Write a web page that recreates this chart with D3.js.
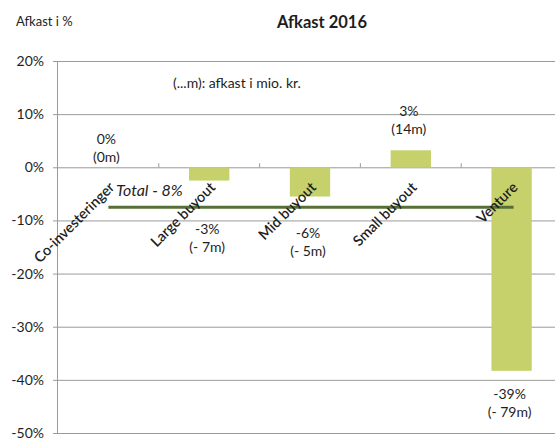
<!DOCTYPE html>
<html>
<head>
<meta charset="utf-8">
<script src="https://cdn.jsdelivr.net/npm/d3@7"></script>
<style>
  body { margin: 0; background: #fff; }
  text { font-family: Lato, "Open Sans", sans-serif; fill: #1e1e1e; }
</style>
</head>
<body>
<div id="chart"></div>
<script>
// chart data
const categories = ["Co-investeringer", "Large buyout", "Mid buyout", "Small buyout", "Venture"];
const values = [0, -2.5, -5.5, 3.2, -38.3];
const pctLabels = ["0%", "-3%", "-6%", "3%", "-39%"];
const mioLabels = ["(0m)", "(- 7m)", "(- 5m)", "(14m)", "(- 79m)"];
const totalValue = -7.5;
const totalLabel = "Total - 8%";
const yTicks = [20, 10, 0, -10, -20, -30, -40, -50];

const width = 555, height = 440;
const margin = {top: 61, right: -7, bottom: 7, left: 57};

const svg = d3.select("#chart").append("svg")
  .attr("width", width)
  .attr("height", height);

const x = d3.scaleBand()
  .domain(categories)
  .range([margin.left + 1, width - margin.right])
  .paddingInner(0.6)
  .paddingOuter(0.3);

const y = d3.scaleLinear()
  .domain([-50, 20])
  .range([height - margin.bottom, margin.top]);

// gridlines
svg.append("g")
  .selectAll("line")
  .data(yTicks)
  .join("line")
  .attr("x1", margin.left - 4)
  .attr("x2", width)
  .attr("y1", d => y(d) + 0.5)
  .attr("y2", d => y(d) + 0.5)
  .attr("stroke", "#9a9a9a")
  .attr("stroke-width", 1);

// y axis line
svg.append("line")
  .attr("x1", margin.left + 0.5).attr("x2", margin.left + 0.5)
  .attr("y1", y(20)).attr("y2", y(-50))
  .attr("stroke", "#9a9a9a");

// y tick labels
svg.append("g")
  .selectAll("text")
  .data(yTicks)
  .join("text")
  .attr("x", 44)
  .attr("y", d => y(d) + 5)
  .attr("text-anchor", "end")
  .attr("font-size", 14)
  .text(d => d + "%");

// category ticks on the zero line
const step = x.step();
const tickXs = categories.slice(1).map(c => x(c) + x.bandwidth() / 2 - step / 2);
svg.append("g")
  .selectAll("line")
  .data(tickXs)
  .join("line")
  .attr("x1", d => d).attr("x2", d => d)
  .attr("y1", y(0)).attr("y2", y(0) - 4)
  .attr("stroke", "#9a9a9a");

// bars
svg.append("g")
  .selectAll("rect")
  .data(values)
  .join("rect")
  .attr("x", (d, i) => x(categories[i]))
  .attr("width", x.bandwidth())
  .attr("y", d => y(Math.max(0, d)))
  .attr("height", d => Math.abs(y(d) - y(0)))
  .attr("fill", "#c6d16b");

// total line
const cx = c => x(c) + x.bandwidth() / 2;
svg.append("line")
  .attr("x1", cx(categories[0]))
  .attr("x2", cx(categories[categories.length - 1]) + 2)
  .attr("y1", y(totalValue))
  .attr("y2", y(totalValue))
  .attr("stroke", "#556f36")
  .attr("stroke-width", 3);

svg.append("text")
  .attr("x", 116)
  .attr("y", y(totalValue) - 11)
  .attr("font-size", 16)
  .attr("font-style", "italic")
  .text(totalLabel);

// category labels
svg.append("g")
  .selectAll("text")
  .data(categories)
  .join("text")
  .attr("transform", c => `translate(${cx(c) + 7},${y(0) + 21}) rotate(-45)`)
  .attr("text-anchor", "end")
  .attr("font-size", 14.5)
  .attr("font-weight", 600)
  .text(c => c);

// value labels: vertical offset of the first line from the bar end
const labelOffset = [-23, 53, 41, -34, 28];
const lbl = svg.append("g")
  .selectAll("g")
  .data(values)
  .join("g")
  .attr("transform", (d, i) => `translate(${cx(categories[i]) - 2},${y(d) + labelOffset[i]})`);
lbl.append("text")
  .attr("text-anchor", "middle")
  .attr("font-size", 14)
  .text((d, i) => pctLabels[i]);
lbl.append("text")
  .attr("text-anchor", "middle")
  .attr("y", 18)
  .attr("font-size", 14)
  .text((d, i) => mioLabels[i]);

// titles
svg.append("text")
  .attr("x", 322)
  .attr("y", 28)
  .attr("text-anchor", "middle")
  .attr("font-size", 16.5)
  .attr("font-weight", "bold")
  .text("Afkast 2016");

svg.append("text")
  .attr("x", 16)
  .attr("y", 26)
  .attr("font-size", 13)
  .text("Afkast i %");

svg.append("text")
  .attr("x", 173)
  .attr("y", 88)
  .attr("font-size", 14)
  .text("(...m): afkast i mio. kr.");
</script>
</body>
</html>
